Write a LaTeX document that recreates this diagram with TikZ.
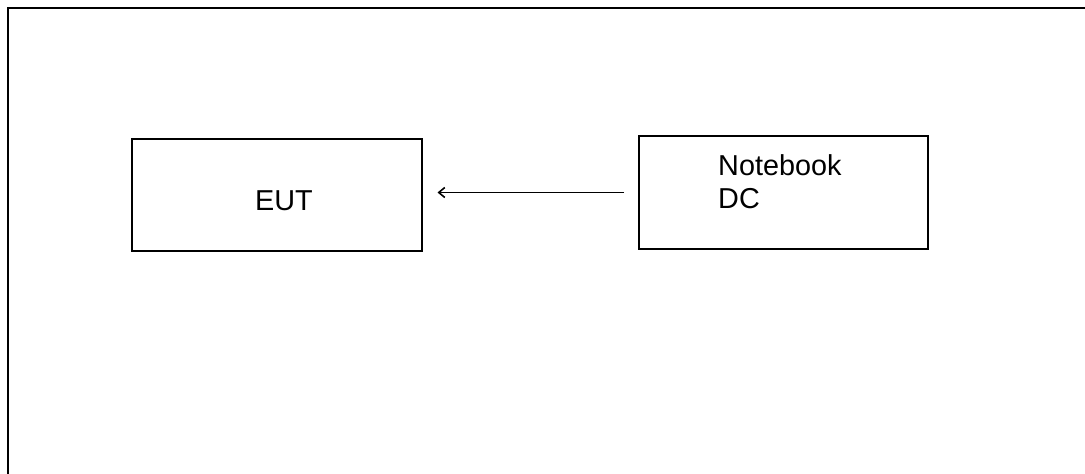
\documentclass[tikz,border=0pt]{standalone}
\usepackage{fontspec}
\setmainfont{Liberation Sans}
\usetikzlibrary{arrows.meta}
\tikzset{
  boxstyle/.style={draw, line width=2pt, rectangle, inner sep=0pt},
  labelstyle/.style={inner sep=0pt, font=\fontsize{28.8pt}{33pt}\selectfont},
  framestyle/.style={line width=2.4pt},
  connstyle/.style={line width=1.6pt, -{Straight Barb[length=6pt,width=10pt,line width=1.6pt]}}
}
\begin{document}
\begin{tikzpicture}[x=1pt,y=-1pt]
\useasboundingbox (0,0) rectangle (1085,474);
\draw[framestyle] (8,480) -- (8,8) -- (1090,8);
\node[boxstyle, minimum width=290pt, minimum height=112pt] (eut) at (276.5,194.5) {};
\node[boxstyle, minimum width=289pt, minimum height=113pt] (nb) at (783.5,192.5) {};
\node[labelstyle, anchor=base west] (eutlabel) at (255,210.7) {EUT};
\node[labelstyle, anchor=base west, align=left] (nblabel) at (718,208) {Notebook\\DC};
\draw[connstyle, shorten <=14pt, shorten >=15pt] (nb.west) -- (nb.west -| eut.east);
\end{tikzpicture}
\end{document}
